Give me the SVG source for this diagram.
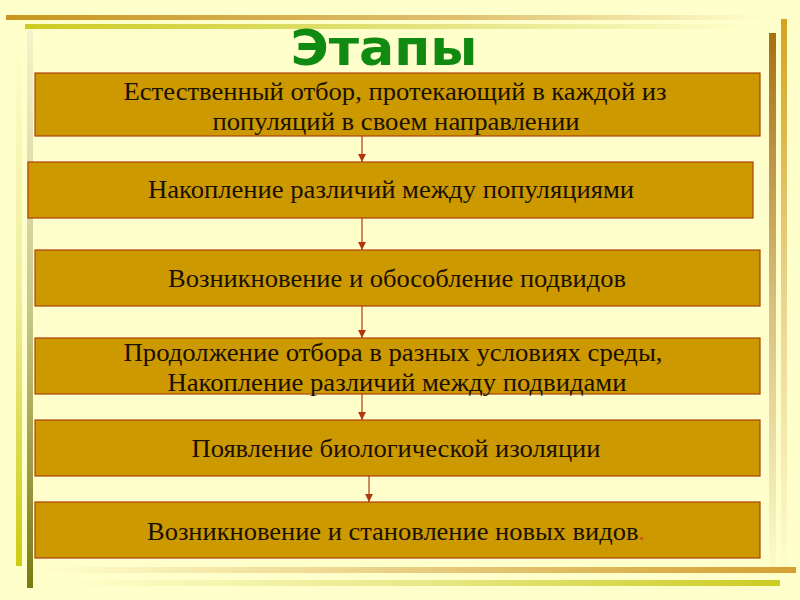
<svg xmlns="http://www.w3.org/2000/svg" width="800" height="600" viewBox="0 0 800 600">
  <defs>
    <linearGradient id="gTop1" x1="0" y1="0" x2="1" y2="0">
      <stop offset="0" stop-color="#c8961e"/>
      <stop offset="0.6" stop-color="#e0c070"/>
      <stop offset="1" stop-color="#ffffcc"/>
    </linearGradient>
    <linearGradient id="gTop2" x1="0" y1="0" x2="1" y2="0">
      <stop offset="0" stop-color="#cccc22"/>
      <stop offset="0.6" stop-color="#e6e688"/>
      <stop offset="1" stop-color="#ffffcc"/>
    </linearGradient>
    <linearGradient id="gLeftA" x1="0" y1="0" x2="0" y2="1">
      <stop offset="0" stop-color="#ffffcc"/>
      <stop offset="0.5" stop-color="#eeee99"/>
      <stop offset="1" stop-color="#cccc11"/>
    </linearGradient>
    <linearGradient id="gLeftB" x1="0" y1="0" x2="0" y2="1">
      <stop offset="0" stop-color="#f4f4cc"/>
      <stop offset="0.5" stop-color="#c8c888"/>
      <stop offset="1" stop-color="#7a7a10"/>
    </linearGradient>
    <linearGradient id="gRightC" x1="0" y1="0" x2="0" y2="1">
      <stop offset="0" stop-color="#a87010"/>
      <stop offset="0.5" stop-color="#d8c080"/>
      <stop offset="1" stop-color="#ffffcc"/>
    </linearGradient>
    <linearGradient id="gRightD" x1="0" y1="0" x2="0" y2="1">
      <stop offset="0" stop-color="#d4a420"/>
      <stop offset="0.5" stop-color="#ead490"/>
      <stop offset="1" stop-color="#ffffcc"/>
    </linearGradient>
    <linearGradient id="gBotE" x1="0" y1="0" x2="1" y2="0">
      <stop offset="0" stop-color="#ffffcc"/>
      <stop offset="0.5" stop-color="#e8cc80"/>
      <stop offset="1" stop-color="#d4a030"/>
    </linearGradient>
    <linearGradient id="gBotF" x1="0" y1="0" x2="1" y2="0">
      <stop offset="0" stop-color="#ffffcc"/>
      <stop offset="0.5" stop-color="#e8e888"/>
      <stop offset="1" stop-color="#cccc22"/>
    </linearGradient>
    <marker id="arr" viewBox="0 0 8 8" refX="8" refY="4" markerWidth="8" markerHeight="8" markerUnits="userSpaceOnUse" orient="auto">
      <path d="M0,0 L8,4 L0,8 Z" fill="#b03a10"/>
    </marker>
  </defs>
  <style>
    .box { fill: #cc9900; stroke: #b04010; stroke-width: 1.2; }
    .t { font-family: "Liberation Serif", "Times New Roman", serif; font-size: 25px; fill: #1a1000; text-anchor: middle; }
    .title { font-family: "DejaVu Sans", Verdana, sans-serif; font-weight: bold; font-size: 50px; fill: #118a11; text-anchor: middle; }
    .conn line { stroke: #b03a10; stroke-width: 1.2; marker-end: url(#arr); }
  </style>

  <rect x="0" y="0" width="800" height="600" fill="#ffffcc"/>

  <g id="decor">
    <rect x="16" y="30" width="6" height="536" fill="url(#gLeftA)"/>
    <rect x="27" y="30" width="6" height="558" fill="url(#gLeftB)"/>
    <rect x="6" y="15" width="760" height="5" fill="url(#gTop1)"/>
    <rect x="25" y="24" width="730" height="5" fill="url(#gTop2)"/>
    <rect x="769" y="33" width="7" height="550" fill="url(#gRightC)"/>
    <rect x="781" y="19" width="6" height="560" fill="url(#gRightD)"/>
    <rect x="40" y="567" width="756" height="6" fill="url(#gBotE)"/>
    <rect x="60" y="580" width="720" height="6" fill="url(#gBotF)"/>
  </g>

  <g id="title">
    <text class="title" x="384" y="65" textLength="187" lengthAdjust="spacingAndGlyphs">Этапы</text>
  </g>

  <g id="connectors" class="conn">
    <line x1="362" y1="136" x2="362" y2="162"/>
    <line x1="362" y1="218" x2="362" y2="250"/>
    <line x1="362" y1="306" x2="362" y2="338"/>
    <line x1="362" y1="394" x2="362" y2="420"/>
    <line x1="369" y1="476" x2="369" y2="502"/>
  </g>

  <g id="node1">
    <rect class="box" x="35" y="73" width="725" height="63"/>
    <text class="t" x="395" y="100" textLength="543" lengthAdjust="spacingAndGlyphs">Естественный отбор, протекающий в каждой из</text>
    <text class="t" x="396" y="130" textLength="367" lengthAdjust="spacingAndGlyphs">популяций в своем направлении</text>
  </g>

  <g id="node2">
    <rect class="box" x="28" y="162" width="725" height="56"/>
    <text class="t" x="391" y="198" textLength="486" lengthAdjust="spacingAndGlyphs">Накопление различий между популяциями</text>
  </g>

  <g id="node3">
    <rect class="box" x="35" y="250" width="725" height="56"/>
    <text class="t" x="397" y="287" textLength="458" lengthAdjust="spacingAndGlyphs">Возникновение и обособление подвидов</text>
  </g>

  <g id="node4">
    <rect class="box" x="35" y="338" width="725" height="56"/>
    <text class="t" x="393" y="361" textLength="539" lengthAdjust="spacingAndGlyphs">Продолжение отбора в разных условиях среды,</text>
    <text class="t" x="397" y="391" textLength="459" lengthAdjust="spacingAndGlyphs">Накопление различий между подвидами</text>
  </g>

  <g id="node5">
    <rect class="box" x="35" y="420" width="725" height="56"/>
    <text class="t" x="396" y="457" textLength="409" lengthAdjust="spacingAndGlyphs">Появление биологической изоляции</text>
  </g>

  <g id="node6">
    <rect class="box" x="35" y="502" width="725" height="56"/>
    <text class="t" x="396" y="540" textLength="498" lengthAdjust="spacingAndGlyphs">Возникновение и становление новых видов<tspan fill="#d05020">.</tspan></text>
  </g>
</svg>
